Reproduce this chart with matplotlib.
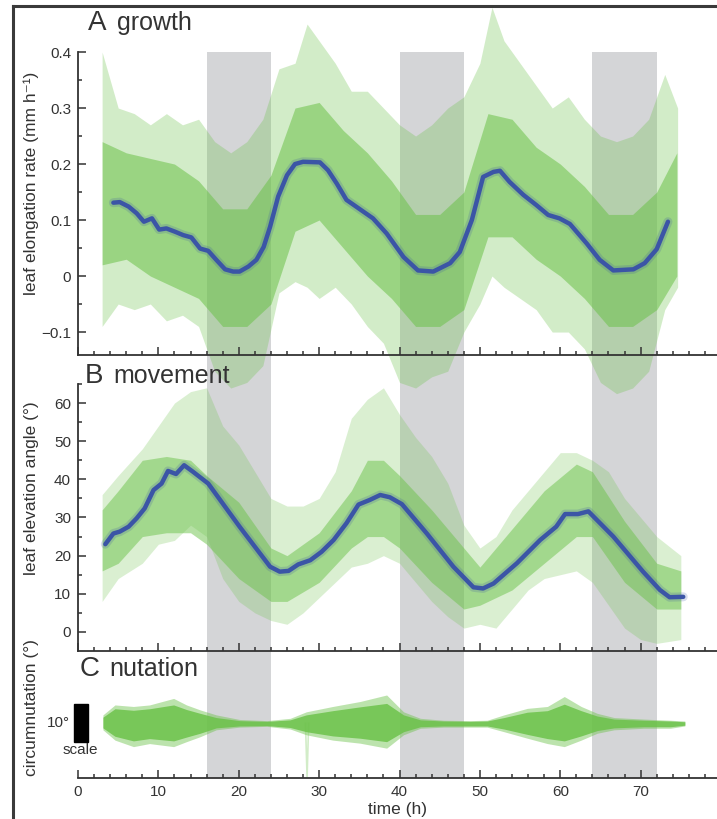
import matplotlib.pyplot as plt
from matplotlib.lines import Line2D
from matplotlib.patches import Rectangle
from matplotlib.ticker import MultipleLocator, FixedLocator

plt.rcParams['font.family'] = ['Liberation Sans', 'DejaVu Sans']

W, H = 717, 819
GREEN = '#6cc24a'
BLUE = '#3b55a6'
GRAY = '#d4d5d7'
INK = '#333333'

nights = [(16, 24), (40, 48), (64, 72)]

# ---- A: growth (mm h-1) ----
growth_t = [4.4, 5.2, 6.3, 7.3, 8.2, 9.2, 10.1, 11.0, 12.1, 13.1, 14.1, 15.2, 16.2, 17.2,
            18.3, 19.3, 20.1, 21.2, 22.2, 23.1, 23.9, 24.9, 26.0, 27.0, 28.0, 30.1, 31.1,
            32.2, 33.4, 34.9, 36.7, 38.4, 40.5, 42.3, 44.2, 46.3, 47.5, 49.0, 50.4, 51.7,
            52.5, 53.7, 55.4, 57.0, 58.5, 59.9, 61.2, 63.3, 64.9, 66.6, 69.1, 70.5, 72.0, 73.4]
growth_mean = [0.131, 0.132, 0.124, 0.112, 0.097, 0.103, 0.083, 0.085, 0.079, 0.073, 0.069,
               0.049, 0.045, 0.029, 0.012, 0.008, 0.008, 0.017, 0.029, 0.052, 0.088, 0.142,
               0.180, 0.200, 0.204, 0.203, 0.189, 0.165, 0.136, 0.121, 0.103, 0.076, 0.034,
               0.010, 0.008, 0.023, 0.043, 0.100, 0.177, 0.186, 0.188, 0.168, 0.145, 0.127,
               0.109, 0.103, 0.093, 0.058, 0.029, 0.010, 0.012, 0.023, 0.048, 0.097]
growth_env_t = [3, 5, 7, 9, 11, 13, 15, 17, 19, 21, 23, 25, 27, 28.5, 30, 32, 34, 36, 38, 40,
                42, 44, 46, 48, 50, 51.5, 53, 55, 57, 59, 61, 63, 65, 67, 69, 71, 73, 74.6]
growth_top = [0.40, 0.30, 0.29, 0.27, 0.29, 0.27, 0.28, 0.24, 0.22, 0.24, 0.28, 0.37, 0.38,
              0.45, 0.42, 0.38, 0.33, 0.33, 0.30, 0.27, 0.25, 0.27, 0.30, 0.32, 0.38, 0.48,
              0.42, 0.38, 0.34, 0.30, 0.32, 0.28, 0.25, 0.24, 0.25, 0.28, 0.36, 0.30]
growth_bot = [-0.09, -0.05, -0.06, -0.05, -0.08, -0.07, -0.09, -0.17, -0.20, -0.19, -0.16,
              -0.03, -0.01, -0.02, -0.04, -0.02, -0.05, -0.09, -0.12, -0.19, -0.20, -0.18,
              -0.17, -0.10, -0.05, 0.0, -0.02, -0.04, -0.06, -0.10, -0.10, -0.13, -0.19,
              -0.21, -0.20, -0.17, -0.06, -0.02]
growth_core_t = [3, 6, 9, 12, 15, 18, 21, 24, 27, 30, 33, 36, 39, 42, 45, 48, 51, 54, 57,
                 60, 63, 66, 69, 72, 74.5]
growth_core_top = [0.24, 0.22, 0.21, 0.20, 0.17, 0.12, 0.12, 0.18, 0.30, 0.31, 0.26, 0.22,
                   0.17, 0.11, 0.11, 0.15, 0.29, 0.28, 0.23, 0.20, 0.16, 0.11, 0.11, 0.15, 0.22]
growth_core_bot = [0.02, 0.03, 0.0, -0.02, -0.04, -0.09, -0.09, -0.05, 0.08, 0.10, 0.05,
                   0.0, -0.04, -0.09, -0.09, -0.06, 0.07, 0.07, 0.03, 0.0, -0.04, -0.09,
                   -0.09, -0.06, 0.0]

# ---- B: movement (leaf elevation angle, deg) ----
move_t = [3.4, 4.4, 5.2, 6.3, 7.3, 8.3, 9.4, 10.4, 11.2, 12.2, 13.2, 14.3, 16.2, 20.1, 23.9,
          25.1, 26.2, 27.4, 28.9, 30.3, 31.8, 33.4, 34.9, 36.3, 37.6, 38.8, 40.3, 43.4, 46.7,
          49.2, 50.4, 51.7, 54.6, 57.5, 59.5, 60.6, 62.2, 63.5, 66.6, 70.3, 72.4, 73.6, 75.3]
move_mean = [23.0, 25.8, 26.3, 27.6, 29.8, 32.4, 37.2, 38.9, 42.2, 41.4, 43.7, 42.0, 38.9,
             27.6, 17.1, 15.8, 16.0, 17.7, 18.8, 21.0, 24.1, 28.5, 33.4, 34.6, 35.9, 35.3,
             33.5, 25.8, 17.1, 11.7, 11.4, 12.7, 18.0, 24.1, 27.6, 30.9, 30.9, 31.6, 25.0,
             15.8, 11.0, 9.1, 9.2]
move_env_t = [3, 5, 8, 10, 12, 14, 16, 18, 20, 22, 24, 26, 28, 30, 32, 34, 36, 38, 40, 42,
              44, 46, 48, 50, 52, 54, 56, 58, 60, 62, 64, 66, 68, 70, 72, 75]
move_top = [36, 41, 48, 54, 60, 63, 64, 54, 49, 42, 35, 33, 33, 35, 42, 56, 61, 64, 57, 51,
            46, 39, 28, 22, 25, 32, 37, 42, 47, 47, 45, 42, 35, 30, 25, 20]
move_bot = [8, 14, 18, 23, 24, 28, 25, 14, 8, 5, 3, 2, 5, 9, 13, 17, 18, 20, 18, 13,
            8, 4, 1, 2, 1, 6, 11, 14, 15, 16, 13, 7, 1, -2, -3, -2]
move_core_t = [3, 5, 8, 11, 14, 16, 20, 24, 26, 30, 34, 36, 38, 40, 44, 48, 50, 54, 58, 62,
               64, 68, 72, 75]
move_core_top = [32, 37, 45, 46, 45, 41, 34, 22, 20, 26, 37, 45, 45, 41, 32, 22, 17, 27, 37,
                 44, 42, 29, 18, 16]
move_core_bot = [16, 18, 25, 26, 26, 23, 14, 8, 8, 13, 22, 25, 25, 22, 13, 6, 7, 11, 18, 25,
                 25, 13, 6, 6]

# ---- C: nutation (circumnutation, deg) ----
nut_t = [3.1, 4.6, 6.9, 8.9, 11.9, 13.5, 15.2, 17.2, 20.1, 23.5, 26.4, 28.4, 31.7, 35.1,
         38.4, 40.5, 42.6, 45.5, 48.8, 50.9, 53.0, 55.9, 58.4, 60.5, 62.6, 64.6, 66.7, 70.4,
         73.7, 75.5]
nut_top = [2.2, 4.8, 4.4, 4.8, 6.5, 4.8, 3.5, 2.2, 1.0, 0.7, 1.3, 3.0, 4.4, 5.7, 7.4, 3.0,
           1.3, 0.8, 0.7, 0.8, 2.2, 3.9, 4.4, 7.0, 4.4, 2.6, 1.5, 1.1, 0.8, 0.6]
nut_bot = [-1.7, -4.4, -6.1, -5.3, -6.1, -4.8, -3.5, -1.7, -1.0, -0.8, -1.5, -3.0, -4.4,
           -5.2, -6.5, -3.0, -1.3, -1.0, -1.0, -1.0, -2.2, -3.9, -5.3, -6.1, -4.4, -2.6,
           -1.7, -1.3, -1.3, -0.7]
nut_core_top = [1.6, 3.8, 3.4, 3.8, 4.8, 3.6, 2.6, 1.5, 0.7, 0.5, 0.9, 2.2, 3.3, 4.3, 5.2,
                2.2, 0.9, 0.6, 0.5, 0.6, 1.5, 2.9, 3.3, 5.0, 3.3, 1.9, 1.1, 0.8, 0.6, 0.4]
nut_core_bot = [-1.2, -3.4, -4.6, -4.0, -4.6, -3.6, -2.6, -1.2, -0.7, -0.6, -1.1, -2.2,
                -3.3, -3.9, -4.8, -2.2, -0.9, -0.7, -0.7, -0.7, -1.5, -2.9, -4.0, -4.6,
                -3.3, -1.9, -1.2, -0.9, -0.9, -0.5]
nut_spike_t = [28.3, 28.5, 28.7]
nut_spike_v = [0.0, -14.0, 0.0]

fig = plt.figure(figsize=(W / 100, H / 100), dpi=100)


def box(top, bottom):
    return [78 / W, 1 - bottom / H, 1 - 78 / W, (bottom - top) / H]


def fpos(x, y):
    return x / W, 1 - y / H


axA = fig.add_axes(box(5, 355))
axB = fig.add_axes(box(355, 651))
axC = fig.add_axes(box(651, 778))
axA.set_zorder(3)
axB.set_zorder(2)

for ax in (axA, axB, axC):
    ax.patch.set_visible(False)
    ax.set_xlim(0, 79.5)
    for s in ('top', 'right'):
        ax.spines[s].set_visible(False)
    for s in ('left', 'bottom'):
        ax.spines[s].set_color(INK)
        ax.spines[s].set_linewidth(1.3)
    ax.xaxis.set_major_locator(MultipleLocator(10))
    ax.xaxis.set_minor_locator(MultipleLocator(2))
    ax.tick_params(which='both', direction='in', colors=INK, labelsize=11, width=1.1, pad=5)
    ax.tick_params(which='major', length=6)
    ax.tick_params(which='minor', length=3)


def mean_line(ax, t, v):
    ax.plot(t, v, color=BLUE, lw=6.5, alpha=0.2, solid_capstyle='round', solid_joinstyle='round')
    ax.plot(t, v, color=BLUE, lw=3.2, solid_capstyle='round', solid_joinstyle='round')


# A
axA.set_ylim(-0.141, 0.484)
for s, e in nights:
    axA.fill_between([s, e], -0.3, 0.4, color=GRAY, lw=0, zorder=0)
p = axA.fill_between(growth_env_t, growth_bot, growth_top, color=GREEN, alpha=0.3, lw=0)
p.set_clip_on(False)
p = axA.fill_between(growth_core_t, growth_core_bot, growth_core_top, color=GREEN, alpha=0.55, lw=0)
p.set_clip_on(False)
mean_line(axA, growth_t, growth_mean)
axA.spines['left'].set_bounds(-0.141, 0.4)
axA.set_yticks([-0.1, 0, 0.1, 0.2, 0.3, 0.4], ['\u22120.1', '0', '0.1', '0.2', '0.3', '0.4'])
axA.yaxis.set_minor_locator(FixedLocator([-0.05, 0.05, 0.15, 0.25, 0.35]))
axA.tick_params(axis='x', labelbottom=False)

# B
axB.set_ylim(-5.0, 72.6)
for s, e in nights:
    axB.axvspan(s, e, color=GRAY, lw=0, zorder=0)
axB.fill_between(move_env_t, move_bot, move_top, color=GREEN, alpha=0.25, lw=0)
axB.fill_between(move_core_t, move_core_bot, move_core_top, color=GREEN, alpha=0.5, lw=0)
mean_line(axB, move_t, move_mean)
axB.spines['left'].set_bounds(-5.0, 65)
axB.set_yticks(range(0, 61, 10))
axB.yaxis.set_minor_locator(FixedLocator([5, 15, 25, 35, 45, 55, 65]))
axB.tick_params(axis='x', labelbottom=False)

# C
axC.set_ylim(-14.3, 18.9)
for s, e in nights:
    axC.axvspan(s, e, color=GRAY, lw=0, zorder=0)
axC.plot(nut_spike_t, nut_spike_v, color=GREEN, alpha=0.3, lw=1.2)
axC.fill_between(nut_t, nut_bot, nut_top, color=GREEN, alpha=0.45, lw=0)
axC.fill_between(nut_t, nut_core_bot, nut_core_top, color=GREEN, alpha=0.85, lw=0)
axC.spines['left'].set_visible(False)
axC.set_yticks([])
axC.add_patch(Rectangle((-0.45, -5), 1.65, 10, color='black', clip_on=False))
axC.set_xticks(range(0, 71, 10))
axC.set_xlabel('time (h)', fontsize=12.5, color=INK, labelpad=2)

# y labels
fig.text(*fpos(31, 183), 'leaf elongation rate (mm h\u207b\u00b9)', rotation=90,
         ha='center', va='center', fontsize=12.5, color=INK)
fig.text(*fpos(32, 488), 'leaf elevation angle (\u00b0)', rotation=90,
         ha='center', va='center', fontsize=12.5, color=INK)
fig.text(*fpos(32, 708), 'circumnutation (\u00b0)', rotation=90,
         ha='center', va='center', fontsize=12.5, color=INK)
fig.text(*fpos(70, 723), '10\u00b0', ha='right', va='center', fontsize=11, color=INK)
fig.text(*fpos(80, 750), 'scale', ha='center', va='center', fontsize=11, color=INK)

# panel titles
for letter, word, x0, x1, yb in [('A', 'growth', 88, 117, 30), ('B', 'movement', 85, 113, 383),
                                 ('C', 'nutation', 80, 109, 676)]:
    fig.text(*fpos(x0, yb), letter, fontsize=20, color=INK, va='baseline')
    fig.text(*fpos(x1, yb), word, fontsize=18, color=INK, va='baseline')

# outer frame (cut on the right and bottom)
fig.add_artist(Line2D([13 / W, 13 / W], [0, 1 - 5.5 / H], color='#3a3a3a', lw=2.2))
fig.add_artist(Line2D([13 / W, 1], [1 - 5.5 / H, 1 - 5.5 / H], color='#3a3a3a', lw=2.2))

fig.savefig('out.png', dpi=100)
